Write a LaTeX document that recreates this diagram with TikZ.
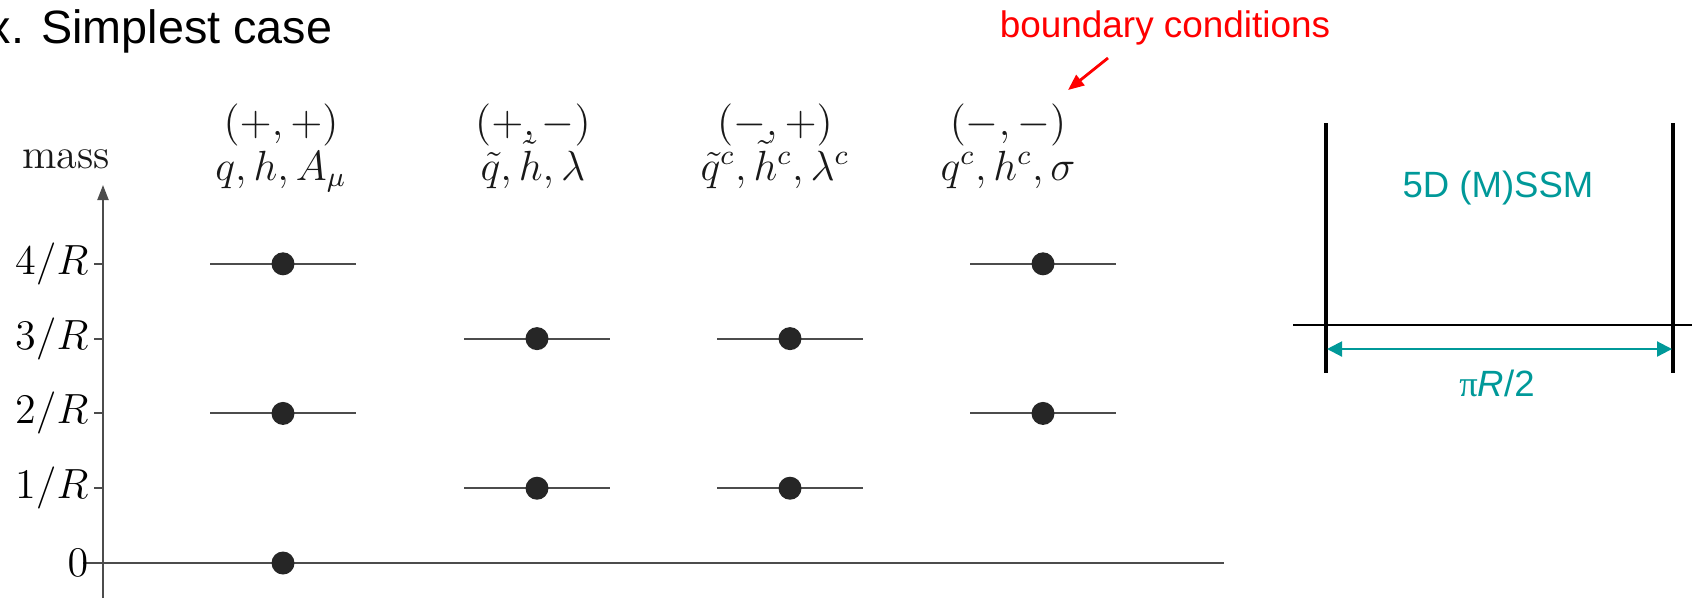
\documentclass[tikz,border=0pt]{standalone}
\usepackage{fontspec}
\newfontfamily\arialfont{Liberation Sans}
\newfontfamily\timesfont{Liberation Serif}
\usetikzlibrary{arrows.meta}
\definecolor{bcred}{RGB}{255,0,0}
\definecolor{bulkteal}{RGB}{0,153,153}
\tikzset{
  axisline/.style={draw=black!70,line width=0.6pt},
  levelline/.style={draw=black!70,line width=0.6pt},
  kkdot/.style={circle,fill=black!85,inner sep=0pt,minimum size=0.23cm},
  headlabel/.style={anchor=base,inner sep=0pt,text=black!90},
  sanslabel/.style={font=\arialfont\fontsize{10.4}{12}\selectfont,text=bulkteal},
}

\begin{document}
\begin{tikzpicture}[x=1cm,y=1cm,font=\fontsize{12}{14}\selectfont]
  \useasboundingbox (-1.03,-0.36) rectangle (15.89,5.63);
  % title, cut at the left edge
  \node[anchor=base west,inner sep=0pt,font=\arialfont\fontsize{13.3}{16}\selectfont]
    (title) at (-1.16,5.20) {x. Simplest case};
  % mass axis
  \coordinate (ybot) at (0,-0.35);
  \coordinate (ytop) at (0,3.78);
  \coordinate (xleft) at (-0.20,0);
  \coordinate (xright) at (11.21,0);
  \draw[axisline] (xleft) -- (xright);
  \draw[axisline,-{Triangle[length=0.15cm,width=0.11cm]}] (ybot) -- (ytop);
  \node[headlabel] (mass) at (-0.37,3.95) {mass};
  \node[anchor=east,inner sep=0pt] (tick0) at (-0.14,0) {$0$};
  \foreach \n in {1,...,4}{
    \draw[axisline] (-0.09,\n*0.748) -- (0,\n*0.748);
    \node[anchor=east,inner sep=0pt] (tick\n) at (-0.14,\n*0.748) {$\n/R$};
  }
  % KK towers
  \foreach \col/\xc/\levels in {pp/1.80/{0,2,4},pm/4.34/{1,3},mp/6.87/{1,3},mm/9.40/{2,4}}{
    \foreach \n in \levels{
      \draw[levelline] (\xc-0.73,\n*0.748) -- (\xc+0.73,\n*0.748)
        node[midway,kkdot] (\col\n) {};
    }
  }
  % boundary conditions and fields
  \node[headlabel] (hpp) at (1.78,4.28) {$(+,+)$};
  \node[headlabel] (fpp) at (1.78,3.83) {$q,h,A_\mu$};
  \node[headlabel] (hpm) at (4.30,4.28) {$(+,-)$};
  \node[headlabel] (fpm) at (4.30,3.83) {$\tilde q,\tilde h,\lambda$};
  \node[headlabel] (hmp) at (6.72,4.28) {$(-,+)$};
  \node[headlabel] (fmp) at (6.72,3.83) {$\tilde q^c,\tilde h^c,\lambda^c$};
  \node[headlabel] (hmm) at (9.05,4.28) {$(-,-)$};
  \node[headlabel] (fmm) at (9.05,3.83) {$q^c,h^c,\sigma$};
  % annotation
  \node[anchor=base,inner sep=0pt,text=bcred,font=\arialfont\fontsize{10.5}{12}\selectfont]
    (bc) at (10.62,5.26) {boundary conditions};
  \coordinate (bctail) at (10.05,5.05);
  \coordinate (bctip) at (9.65,4.73);
  \draw[bcred,line width=0.8pt,-{Triangle[length=0.16cm,width=0.13cm]}] (bctail) -- (bctip);
  % the interval
  \coordinate (wlt) at (12.23,4.40);
  \coordinate (wlb) at (12.23,1.90);
  \coordinate (wrt) at (15.70,4.40);
  \coordinate (wrb) at (15.70,1.90);
  \coordinate (fl) at (11.90,2.38);
  \coordinate (fr) at (15.89,2.38);
  \coordinate (pl) at (12.24,2.14);
  \coordinate (pr) at (15.69,2.14);
  \draw[line width=0.6pt] (fl) -- (fr);
  \draw[line width=1.2pt] (wlt) -- (wlb);
  \draw[line width=1.2pt] (wrt) -- (wrb);
  \draw[bulkteal,line width=0.6pt,{Triangle[length=0.15cm,width=0.15cm]}-{Triangle[length=0.15cm,width=0.15cm]}] (pl) -- (pr);
  \node[sanslabel] (bulk) at (13.95,3.75) {5D (M)SSM};
  \node[sanslabel] (len) at (13.94,1.80) {{\timesfont π}\textit{R}/2};
\end{tikzpicture}
\end{document}
